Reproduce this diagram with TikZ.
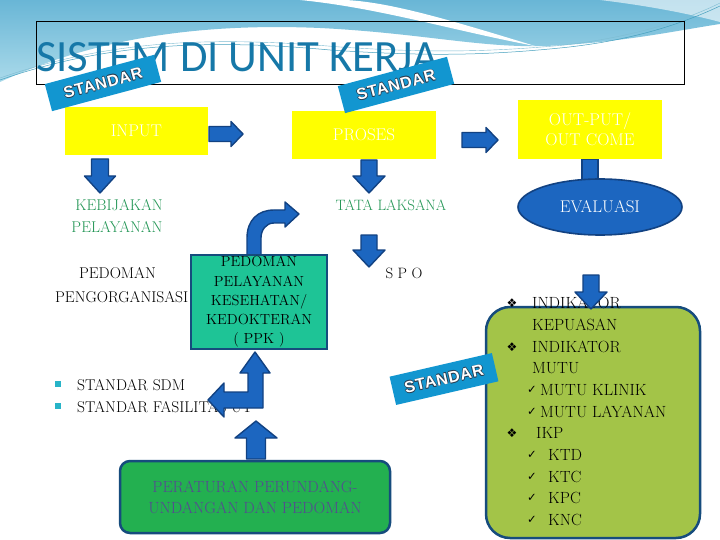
\documentclass[tikz,border=0pt]{standalone}
\usepackage{fontspec}
\newfontfamily\titlefont{Carlito}
\newfontfamily\tagfont[LetterSpace=4]{Liberation Sans}
\newfontfamily\symfont{DejaVu Sans}
\usetikzlibrary{shapes.geometric}
\definecolor{skyA}{RGB}{105,182,214}
\definecolor{skyB}{RGB}{170,218,234}
\definecolor{skyline}{RGB}{70,160,190}
\definecolor{titlec}{RGB}{22,120,168}
\definecolor{tagc}{RGB}{18,150,208}
\definecolor{tagdark}{RGB}{40,60,80}
\definecolor{yboxc}{RGB}{255,255,0}
\definecolor{arrfill}{RGB}{28,102,192}
\definecolor{arrline}{RGB}{18,66,130}
\definecolor{greentext}{RGB}{35,150,85}
\definecolor{ppkc}{RGB}{30,196,150}
\definecolor{boxline}{RGB}{22,76,125}
\definecolor{perc}{RGB}{35,176,80}
\definecolor{pertext}{RGB}{85,75,145}
\definecolor{olivec}{RGB}{163,196,72}
\definecolor{bulc}{RGB}{40,180,200}
\newcommand\outl[1]{\leavevmode\rlap{\hspace{0.7pt}\textcolor{tagdark}{#1}}\rlap{\hspace{-0.7pt}\textcolor{tagdark}{#1}}\rlap{\raisebox{0.7pt}{\textcolor{tagdark}{#1}}}\rlap{\raisebox{-0.7pt}{\textcolor{tagdark}{#1}}}\textcolor{white}{#1}}
\newcommand\blockarr[7]{\filldraw[barr,shift={(#1,#2)},rotate=#3] (0,-#5) -- ({#4-#7},-#5) -- ({#4-#7},-#6) -- (#4,0) -- ({#4-#7},#6) -- ({#4-#7},#5) -- (0,#5) -- cycle;}
\begin{document}
\begin{tikzpicture}[x=1pt,y=-1pt,
  barr/.style={fill=arrfill,draw=arrline,line width=1.4pt,line join=round},
  ybox/.style={fill=yboxc,text=white,font=\fontsize{17}{20.5}\selectfont,inner sep=0,align=center},
  tagbox/.style={fill=tagc,inner sep=0,minimum width=113,minimum height=28,font=\tagfont\bfseries\fontsize{16}{18}\selectfont},
  gtext/.style={text=greentext,font=\fontsize{15.6}{18}\selectfont,inner sep=0},
  btext/.style={text=black,font=\fontsize{15.6}{18}\selectfont,inner sep=0},
  ltext/.style={text=black,font=\fontsize{16.2}{19}\selectfont,inner sep=0,anchor=west},
  dia/.style={text=black,font=\symfont\fontsize{12}{13}\selectfont,inner sep=0},
  chk/.style={text=black,font=\symfont\fontsize{11.5}{12}\selectfont,inner sep=0,anchor=west},
  bulsq/.style={fill=bulc,inner sep=0,minimum size=6}]
\useasboundingbox (0,0) rectangle (720,540);
\fill[white] (0,0) rectangle (720,540);
% background decoration
\shade[top color=skyA,bottom color=skyB] (0,0) -- (720,0) -- (720,24)
  .. controls (680,30) and (620,43) .. (545,46)
  .. controls (480,48) and (420,33) .. (320,28)
  .. controls (180,22) and (80,45) .. (0,82) -- cycle;
\fill[white] (300,0) .. controls (380,8) and (450,30) .. (535,46)
  .. controls (450,20) and (390,2) .. (345,0) -- cycle;
\fill[white,opacity=0.6] (600,0) .. controls (650,6) and (690,14) .. (720,22) -- (720,0) -- cycle;
\draw[skyline,line width=0.5] (0,80) .. controls (100,45) and (200,38) .. (330,50)
  .. controls (420,56) and (480,56) .. (560,48) .. controls (640,40) and (690,20) .. (720,6);
\draw[skyline!70,line width=0.4] (0,78) .. controls (110,40) and (210,36) .. (340,47)
  .. controls (430,53) and (490,52) .. (565,45) .. controls (640,36) and (690,18) .. (720,3);
% title
\node[draw=black,line width=0.8,minimum width=648,minimum height=63,inner sep=0] (titlebox) at (360,52.5) {};
\node[anchor=base west,inner sep=0,text=titlec,font=\titlefont\fontsize{44.7}{50}\selectfont] (title) at (36,72) {SISTEM DI UNIT KERJA};
% yellow boxes
\node[ybox,minimum width=143,minimum height=48] (input) at (136.5,131) {INPUT};
\node[ybox,minimum width=144,minimum height=48] (proses) at (364,135) {PROSES};
\node[ybox,minimum width=144,minimum height=59] (output) at (590,129.5) {OUT-PUT/\\OUT COME};
% tags
\node[tagbox,rotate=15] (tag1) at (103,83) {\outl{STANDAR}};
\node[tagbox,rotate=15] (tag2) at (396,85) {\outl{STANDAR}};
% straight block arrows
\blockarr{209}{134}{0}{34}{7.5}{12.5}{12}
\blockarr{462}{140}{0}{36}{7.5}{12.5}{12}
\blockarr{100}{159}{-90}{34}{8.5}{15.5}{17}
\blockarr{369}{160}{-90}{33}{8}{16}{17}
\blockarr{369}{235}{-90}{32}{8}{16}{17}
% output -> evaluasi stub
\filldraw[fill=arrfill,draw=arrline,line width=1.2pt] ([xshift=-8]output.south) rectangle ([xshift=8,yshift=-22]output.south);
\node[ellipse,fill=arrfill,draw=arrline,line width=1.6pt,minimum width=164,minimum height=56,inner sep=0,text=white,font=\fontsize{17}{20}\selectfont] (eval) at (600,207) {EVALUASI};
% green texts
\node[gtext] (kebijakan) at (119,205) {KEBIJAKAN};
\node[gtext] (pelayanan) at (117,227) {PELAYANAN};
\node[gtext,font=\fontsize{15}{17}\selectfont] (tata) at (391,205) {TATA LAKSANA};
\node[btext,font=\fontsize{15}{17}\selectfont] (spo) at (404,273) {S P O};
% curved arrow
\filldraw[barr] (247,256) -- (247,238) .. controls (247,220) and (258,210) .. (274,210) -- (285,210) -- (285,202) -- (299,214) -- (285,227) -- (285,223) -- (274,223) .. controls (266,223) and (261,230) .. (261,238) -- (261,256) -- cycle;
% left texts
\node[btext] (pedoman) at (117.5,273) {PEDOMAN};
\node[btext,anchor=west] (pengorg) at (55,297) {PENGORGANISASI};
% PPK box
\node[fill=ppkc,draw=boxline,line width=2.5pt,minimum width=136,minimum height=94,inner sep=0,align=center,text=black,font=\fontsize{14.6}{19.3}\selectfont] (ppk) at (259,302) {PEDOMAN\\PELAYANAN\\KESEHATAN/\\KEDOKTERAN\\( PPK )};
% bullets
\node[bulsq] (b1) at (58,384) {};
\node[bulsq] (b2) at (58,406) {};
\node[btext,anchor=west] (sdm) at (77,385) {STANDAR SDM};
\node[btext,anchor=west] (fas) at (77,407) {STANDAR FASILITAS UT};
% L-shaped arrow
\filldraw[barr] (255,352) -- (270,373) -- (263,373) -- (263,408) -- (224,408) -- (224,417) -- (208,400) -- (224,383) -- (224,392) -- (248,392) -- (248,373) -- (240,373) -- cycle;
% bottom arrow and box
\blockarr{256}{459}{90}{38}{9.5}{21}{17}
\node[rounded corners=10pt,fill=perc,draw=boxline,line width=2.5pt,minimum width=270,minimum height=72,inner sep=0,align=center,text=pertext,font=\fontsize{16.2}{21}\selectfont] (perat) at (255,497) {PERATURAN PERUNDANG-\\UNDANGAN DAN PEDOMAN};
% olive box and list
\node[rounded corners=24pt,fill=olivec,draw=boxline,line width=2.5pt,minimum width=214,minimum height=231,inner sep=0] (olive) at (593,422.5) {};
\node[dia] (d1) at (512,303) {❖};
\node[ltext] (l1) at (532,303) {INDIKATOR};
\node[ltext] (l2) at (532,325) {KEPUASAN};
\node[dia] (d2) at (512,347) {❖};
\node[ltext] (l3) at (532,347) {INDIKATOR};
\node[ltext] (l4) at (532,368) {MUTU};
\node[chk] (c1) at (527,390) {✓};
\node[ltext] (l5) at (540,390) {MUTU KLINIK};
\node[chk] (c2) at (527,412) {✓};
\node[ltext] (l6) at (540,412) {MUTU LAYANAN};
\node[dia] (d3) at (512,433) {❖};
\node[ltext] (l7) at (536,433) {IKP};
\node[chk] (c3) at (527,455) {✓};
\node[ltext] (l8) at (548,455) {KTD};
\node[chk] (c4) at (527,477) {✓};
\node[ltext] (l9) at (548,477) {KTC};
\node[chk] (c5) at (527,498) {✓};
\node[ltext] (l10) at (548,498) {KPC};
\node[chk] (c6) at (527,520) {✓};
\node[ltext] (l11) at (548,520) {KNC};
\blockarr{591}{275}{-90}{34}{8}{16}{17}
\node[tagbox,rotate=13,minimum width=105,minimum height=29] (tag3) at (444,379) {\outl{STANDAR}};
\end{tikzpicture}
\end{document}
